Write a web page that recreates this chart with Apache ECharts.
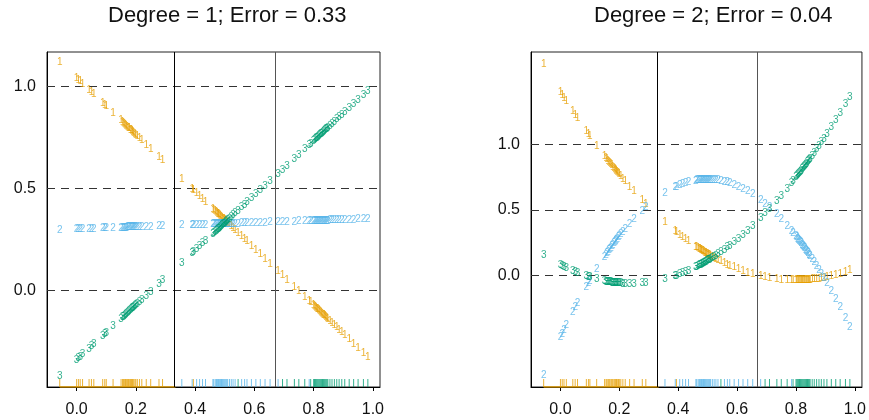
<!DOCTYPE html>
<html>
<head>
<meta charset="utf-8">
<script src="https://cdn.jsdelivr.net/npm/echarts@6/dist/echarts.min.js"></script>
<style>html,body{margin:0;padding:0;background:#fff;}#c{width:869px;height:420px;}</style>
</head>
<body>
<div id="c"></div>
<script>
// ---- data ----
var titles = ['Degree = 1; Error = 0.33', 'Degree = 2; Error = 0.04'];
var classLabels = ['1', '2', '3'];
var classColors = ['#E69F00', '#56B4E9', '#009E73'];
var xTicks = [0, 0.2, 0.4, 0.6, 0.8, 1.0];
var yTicks = [0, 0.5, 1.0];
var boundaries = [1 / 3, 2 / 3];

// observations x (grouped: class 1, class 2, class 3, then extra points of classes 1, 2, 3)
var obsX = [
  -0.057, 0, 0.006, 0.012, 0.02, 0.042, 0.05, 0.058, 0.088, 0.095, 0.1, 0.123, 0.15, 0.158, 0.165, 0.172, 0.178, 0.185, 0.19, 0.197, 0.205, 0.212, 0.22, 0.235, 0.25, 0.278, 0.29, 0.394,
  0.355, 0.39, 0.405, 0.415, 0.425, 0.435, 0.46, 0.468, 0.475, 0.48, 0.486, 0.492, 0.498, 0.504, 0.51, 0.516, 0.522, 0.528, 0.535, 0.557, 0.567, 0.575, 0.59, 0.605, 0.62, 0.636, 0.653, 0.68, 0.785,
  0.545, 0.695, 0.71, 0.735, 0.75, 0.77, 0.79, 0.8, 0.806, 0.812, 0.818, 0.824, 0.83, 0.836, 0.842, 0.848, 0.855, 0.862, 0.87, 0.878, 0.886, 0.895, 0.905, 0.92, 0.935, 0.95, 0.968, 0.983,
  0.155, 0.162, 0.168, 0.175, 0.182, 0.188, 0.193, 0.2,
  0.463, 0.472, 0.478, 0.483, 0.489, 0.495, 0.501, 0.507,
  0.803, 0.809, 0.815, 0.821, 0.827, 0.833, 0.839, 0.845
];
var obsClass = [
  1,1,1,1,1,1,1,1,1,1,1,1,1,1,1,1,1,1,1,1,1,1,1,1,1,1,1,1,
  2,2,2,2,2,2,2,2,2,2,2,2,2,2,2,2,2,2,2,2,2,2,2,2,2,2,2,2,2,
  3,3,3,3,3,3,3,3,3,3,3,3,3,3,3,3,3,3,3,3,3,3,3,3,3,3,3,3,
  1,1,1,1,1,1,1,1,
  2,2,2,2,2,2,2,2,
  3,3,3,3,3,3,3,3
];

// degree 1 fitted values for classes 1,2,3
var deg1Fit1 = [
  1.119, 1.040, 1.032, 1.023, 1.012, 0.982, 0.971, 0.959, 0.918, 0.908, 0.901, 0.869, 0.832, 0.820, 0.811, 0.801, 0.793, 0.783, 0.776, 0.766, 0.755, 0.745, 0.734, 0.713, 0.693, 0.654, 0.637, 0.492,
  0.547, 0.498, 0.477, 0.463, 0.449, 0.435, 0.401, 0.390, 0.380, 0.373, 0.364, 0.356, 0.348, 0.339, 0.331, 0.323, 0.314, 0.306, 0.296, 0.266, 0.252, 0.241, 0.220, 0.199, 0.178, 0.156, 0.132, 0.095, -0.051,
  0.282, 0.074, 0.053, 0.018, -0.003, -0.030, -0.058, -0.072, -0.080, -0.089, -0.097, -0.105, -0.114, -0.122, -0.130, -0.139, -0.148, -0.158, -0.169, -0.180, -0.192, -0.204, -0.218, -0.239, -0.260, -0.281, -0.306, -0.326,
  0.825, 0.815, 0.807, 0.797, 0.787, 0.779, 0.772, 0.762,
  0.396, 0.384, 0.376, 0.369, 0.360, 0.352, 0.344, 0.335,
  -0.076, -0.085, -0.093, -0.101, -0.110, -0.118, -0.126, -0.135
];
var deg1Fit2 = [
  0.297, 0.300, 0.300, 0.301, 0.301, 0.302, 0.303, 0.303, 0.304, 0.305, 0.305, 0.306, 0.308, 0.308, 0.308, 0.309, 0.309, 0.309, 0.310, 0.310, 0.310, 0.311, 0.311, 0.312, 0.313, 0.314, 0.315, 0.320,
  0.318, 0.320, 0.320, 0.321, 0.321, 0.322, 0.323, 0.323, 0.324, 0.324, 0.324, 0.325, 0.325, 0.325, 0.326, 0.326, 0.326, 0.326, 0.327, 0.328, 0.328, 0.329, 0.330, 0.330, 0.331, 0.332, 0.333, 0.334, 0.339,
  0.327, 0.335, 0.336, 0.337, 0.338, 0.339, 0.340, 0.340, 0.340, 0.341, 0.341, 0.341, 0.342, 0.342, 0.342, 0.342, 0.343, 0.343, 0.344, 0.344, 0.344, 0.345, 0.345, 0.346, 0.347, 0.348, 0.348, 0.349,
  0.308, 0.308, 0.308, 0.309, 0.309, 0.309, 0.310, 0.310,
  0.323, 0.324, 0.324, 0.324, 0.324, 0.325, 0.325, 0.325,
  0.340, 0.340, 0.341, 0.341, 0.341, 0.342, 0.342, 0.342
];
var deg1Fit3 = [
  -0.416, -0.340, -0.332, -0.324, -0.313, -0.284, -0.273, -0.262, -0.222, -0.213, -0.206, -0.175, -0.139, -0.128, -0.119, -0.110, -0.102, -0.092, -0.085, -0.076, -0.065, -0.056, -0.045, -0.025, -0.005, 0.033, 0.049, 0.188,
  0.136, 0.183, 0.203, 0.216, 0.230, 0.243, 0.276, 0.287, 0.297, 0.303, 0.311, 0.319, 0.327, 0.335, 0.343, 0.351, 0.360, 0.368, 0.377, 0.406, 0.420, 0.431, 0.451, 0.471, 0.491, 0.512, 0.535, 0.571, 0.712,
  0.390, 0.591, 0.611, 0.645, 0.665, 0.692, 0.719, 0.732, 0.740, 0.748, 0.756, 0.764, 0.772, 0.780, 0.788, 0.796, 0.806, 0.815, 0.826, 0.837, 0.847, 0.859, 0.873, 0.893, 0.913, 0.933, 0.957, 0.977,
  -0.132, -0.123, -0.115, -0.106, -0.096, -0.088, -0.081, -0.072,
  0.280, 0.292, 0.301, 0.307, 0.315, 0.323, 0.331, 0.339,
  0.736, 0.744, 0.752, 0.760, 0.768, 0.776, 0.784, 0.792
];

// degree 2 fitted values for classes 1,2,3
var deg2Fit1 = [
  1.613, 1.400, 1.378, 1.357, 1.329, 1.253, 1.225, 1.198, 1.100, 1.078, 1.062, 0.990, 0.910, 0.886, 0.866, 0.846, 0.830, 0.810, 0.796, 0.777, 0.755, 0.737, 0.716, 0.677, 0.639, 0.572, 0.544, 0.329,
  0.404, 0.337, 0.309, 0.292, 0.275, 0.258, 0.218, 0.206, 0.196, 0.189, 0.180, 0.172, 0.163, 0.155, 0.147, 0.140, 0.132, 0.125, 0.116, 0.091, 0.080, 0.072, 0.058, 0.044, 0.031, 0.019, 0.007, -0.009, -0.041,
  0.105, -0.017, -0.023, -0.032, -0.036, -0.039, -0.041, -0.041, -0.041, -0.041, -0.040, -0.040, -0.039, -0.038, -0.037, -0.036, -0.034, -0.032, -0.030, -0.027, -0.024, -0.020, -0.016, -0.008, 0.001, 0.010, 0.023, 0.035,
  0.895, 0.875, 0.858, 0.838, 0.818, 0.802, 0.788, 0.769,
  0.214, 0.200, 0.192, 0.184, 0.176, 0.168, 0.159, 0.152,
  -0.041, -0.041, -0.041, -0.040, -0.039, -0.039, -0.038, -0.036
];
var deg2Fit2 = [
  -0.768, -0.478, -0.449, -0.420, -0.383, -0.283, -0.248, -0.214, -0.090, -0.062, -0.043, 0.044, 0.138, 0.165, 0.188, 0.210, 0.229, 0.251, 0.266, 0.287, 0.310, 0.329, 0.351, 0.391, 0.428, 0.492, 0.517, 0.676,
  0.628, 0.672, 0.686, 0.695, 0.703, 0.710, 0.722, 0.725, 0.727, 0.728, 0.729, 0.730, 0.730, 0.730, 0.730, 0.729, 0.728, 0.726, 0.724, 0.714, 0.708, 0.703, 0.691, 0.677, 0.660, 0.641, 0.617, 0.574, 0.338,
  0.720, 0.546, 0.517, 0.463, 0.428, 0.378, 0.324, 0.295, 0.278, 0.260, 0.242, 0.223, 0.204, 0.185, 0.165, 0.145, 0.121, 0.097, 0.069, 0.040, 0.010, -0.024, -0.062, -0.122, -0.184, -0.248, -0.328, -0.397,
  0.155, 0.178, 0.198, 0.220, 0.242, 0.260, 0.275, 0.295,
  0.723, 0.726, 0.728, 0.729, 0.729, 0.730, 0.730, 0.730,
  0.287, 0.269, 0.251, 0.232, 0.214, 0.194, 0.175, 0.155
];
var deg2Fit3 = [
  0.155, 0.078, 0.071, 0.063, 0.054, 0.030, 0.023, 0.016, -0.010, -0.016, -0.019, -0.034, -0.048, -0.051, -0.054, -0.056, -0.059, -0.061, -0.062, -0.064, -0.065, -0.066, -0.067, -0.068, -0.067, -0.064, -0.061, -0.005,
  -0.032, -0.009, 0.005, 0.013, 0.022, 0.032, 0.060, 0.069, 0.077, 0.083, 0.091, 0.098, 0.107, 0.115, 0.123, 0.131, 0.140, 0.149, 0.160, 0.195, 0.212, 0.225, 0.251, 0.279, 0.309, 0.340, 0.376, 0.435, 0.703,
  0.175, 0.471, 0.506, 0.569, 0.608, 0.661, 0.717, 0.746, 0.763, 0.781, 0.798, 0.817, 0.835, 0.853, 0.872, 0.891, 0.913, 0.935, 0.961, 0.987, 1.014, 1.044, 1.078, 1.130, 1.183, 1.238, 1.305, 1.362,
  -0.050, -0.053, -0.056, -0.058, -0.060, -0.062, -0.063, -0.064,
  0.063, 0.074, 0.080, 0.087, 0.095, 0.102, 0.111, 0.118,
  0.754, 0.772, 0.790, 0.808, 0.825, 0.845, 0.863, 0.881
];

// ---- chart ----
var panels = [
  { fits: [deg1Fit1, deg1Fit2, deg1Fit3], yMin: -0.471, yMax: 1.168, grid: { left: 47, right: 489, top: 52, bottom: 33 }, titleLeft: 108 },
  { fits: [deg2Fit1, deg2Fit2, deg2Fit3], yMin: -0.855, yMax: 1.708, grid: { left: 531, right: 6, top: 52, bottom: 33 }, titleLeft: 594 }
];
var FONT = 'Liberation Sans, Arial, sans-serif';
var xMin = -0.1, xMax = 1.024;

var option = {
  animation: false,
  backgroundColor: '#fff',
  title: panels.map(function (p, i) {
    return { text: titles[i], left: p.titleLeft, top: 5, padding: 0,
      textStyle: { fontSize: 22, fontWeight: 'normal', color: '#111', fontFamily: FONT } };
  }),
  grid: panels.map(function (p) {
    return Object.assign({ show: true, borderColor: '#222', borderWidth: 1, backgroundColor: 'transparent' }, p.grid);
  }),
  xAxis: panels.map(function (p, i) {
    return {
      type: 'value', gridIndex: i, min: xMin, max: xMax,
      axisLine: { show: true, onZero: false, lineStyle: { color: '#000', width: 1 } },
      axisTick: { show: true, length: 4, customValues: xTicks, lineStyle: { color: '#000' } },
      axisLabel: { customValues: xTicks, formatter: function (v) { return v.toFixed(1); },
        fontSize: 16, color: '#111', margin: 15, fontFamily: FONT },
      splitLine: { show: false }
    };
  }),
  yAxis: panels.map(function (p, i) {
    return {
      type: 'value', gridIndex: i, min: p.yMin, max: p.yMax,
      axisLine: { show: true, onZero: false, lineStyle: { color: '#000', width: 1 } },
      axisTick: { show: false },
      axisLabel: { customValues: yTicks, formatter: function (v) { return v.toFixed(1); },
        fontSize: 16, color: '#111', margin: 11, fontFamily: FONT },
      splitLine: { show: false }
    };
  }),
  series: []
};

panels.forEach(function (p, pi) {
  // reference lines + rug
  var rugData = obsX.map(function (x, k) {
    return { value: [x, p.yMin], itemStyle: { color: classColors[obsClass[k] - 1] } };
  });
  var hLines = yTicks.map(function (v) {
    return { yAxis: v, lineStyle: { type: [8, 6], color: '#333', width: 1 } };
  });
  var vLines = boundaries.map(function (v, j) {
    return { xAxis: v, lineStyle: { type: 'solid', color: j === 0 ? '#000' : '#555', width: 1 } };
  });
  option.series.push({
    type: 'scatter', xAxisIndex: pi, yAxisIndex: pi, silent: true,
    symbol: 'rect', symbolSize: [1, 8], symbolOffset: [0, -4],
    data: rugData, z: 3,
    markLine: { silent: true, symbol: ['none', 'none'], label: { show: false },
      data: hLines.concat(vLines), animation: false }
  });
  // orange base segment along the bottom for class-1 range
  option.series.push({
    type: 'line', xAxisIndex: pi, yAxisIndex: pi, silent: true, symbol: 'none',
    lineStyle: { color: classColors[0], width: 1.5 },
    data: [[obsX[0], p.yMin], [boundaries[0], p.yMin]], z: 4
  });
  // fitted labels
  p.fits.forEach(function (fit, ci) {
    option.series.push({
      type: 'scatter', xAxisIndex: pi, yAxisIndex: pi, silent: true,
      symbol: 'circle', symbolSize: 1,
      itemStyle: { color: 'rgba(0,0,0,0)' },
      label: { show: true, position: 'inside', formatter: classLabels[ci],
        color: classColors[ci], fontSize: 10, fontFamily: FONT },
      data: obsX.map(function (x, k) { return [x, fit[k]]; }),
      z: 5
    });
  });
});

var chart = echarts.init(document.getElementById('c'), null, { renderer: 'canvas' });
chart.setOption(option);
</script>
</body>
</html>
